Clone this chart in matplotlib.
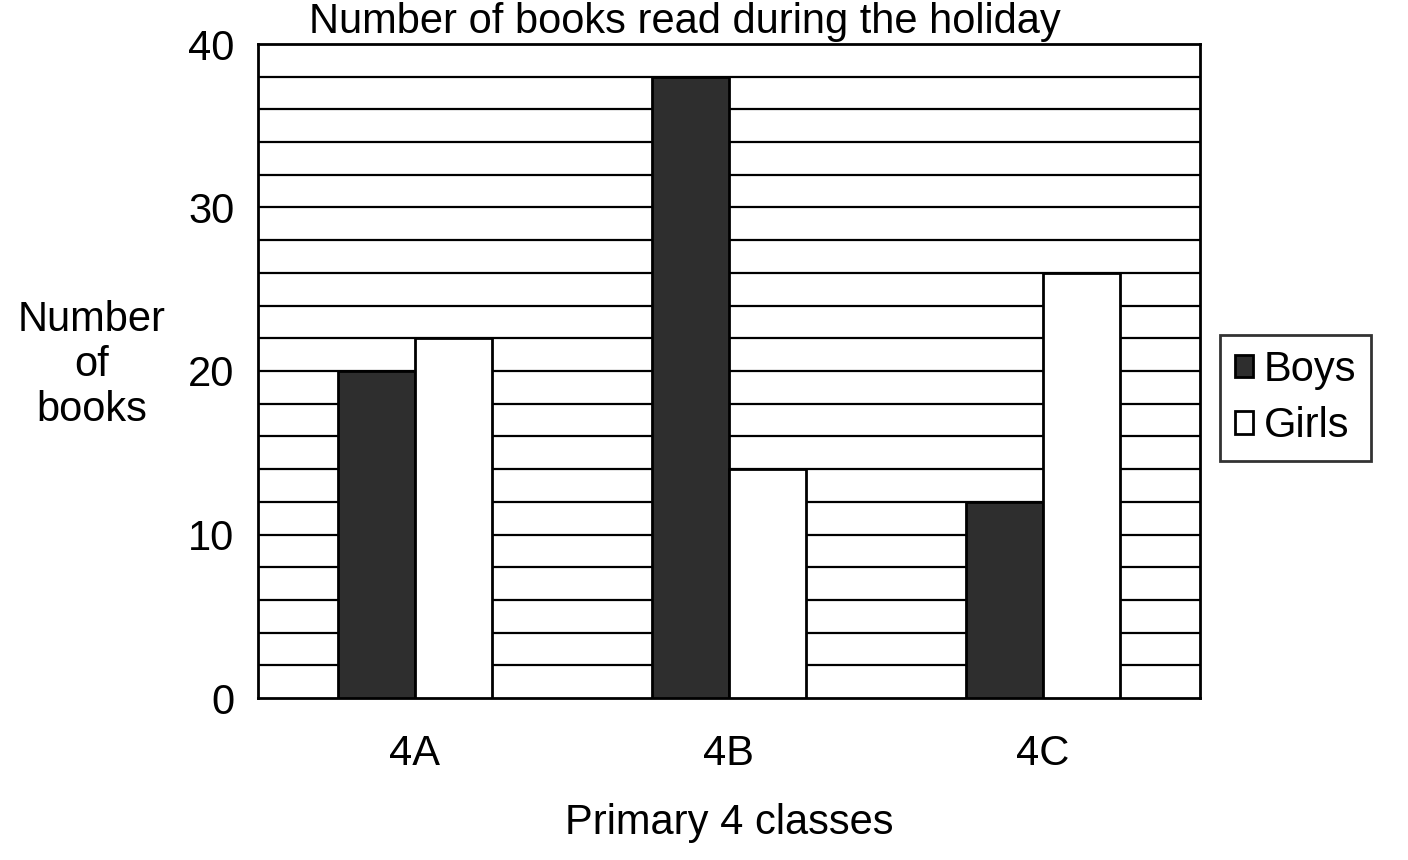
import matplotlib
matplotlib.use("Agg")
import matplotlib.pyplot as plt
import numpy as np

categories = ["4A", "4B", "4C"]
boys = [20, 38, 12]
girls = [22, 14, 26]
yticks = [0, 10, 20, 30, 40]

plt.rcParams['font.family'] = ['Liberation Sans', 'DejaVu Sans']

fig = plt.figure(figsize=(14.08, 8.6), dpi=100)
ax = fig.add_axes([258/1408, 1 - 698/860, (1200-258)/1408, (698-44)/860])

x = np.arange(len(categories))
w = 0.245
ax.bar(x - w/2, boys, w, color='#2e2e2e', edgecolor='black', linewidth=2, zorder=3, label='Boys')
ax.bar(x + w/2, girls, w, color='white', edgecolor='black', linewidth=2, zorder=3, label='Girls')

for yv in np.arange(2, 40, 2):
    ax.axhline(yv, color='black', linewidth=1.6, zorder=1)

ax.set_xlim(-0.5, 2.5)
ax.set_ylim(0, 40)
ax.set_yticks(yticks)
ax.set_xticks(x)
ax.set_xticklabels(categories)
ax.tick_params(axis='both', length=0, labelsize=30)
ax.tick_params(axis='y', pad=17)
ax.tick_params(axis='x', pad=26)
for s in ax.spines.values():
    s.set_linewidth(2)

ax.set_xlabel("Primary 4 classes", fontsize=30, labelpad=21)
fig.text(685/1408, 1 - 22/860, "Number of books read during the holiday", fontsize=30,
         ha='center', va='center')
fig.text(92/1408, 1 - 365/860, "Number\nof\nbooks", fontsize=30, ha='center', va='center',
         linespacing=1.15)

leg = fig.legend(loc='center left', bbox_to_anchor=(1220/1408, 1 - 398/860), fontsize=30,
                 frameon=True, fancybox=False, edgecolor='black', handlelength=0.45,
                 handleheight=0.45, handletextpad=0.25, borderpad=0.35, labelspacing=0.4,
                 borderaxespad=0)
leg.get_frame().set_linewidth(2)

fig.savefig("out.png", dpi=100)
